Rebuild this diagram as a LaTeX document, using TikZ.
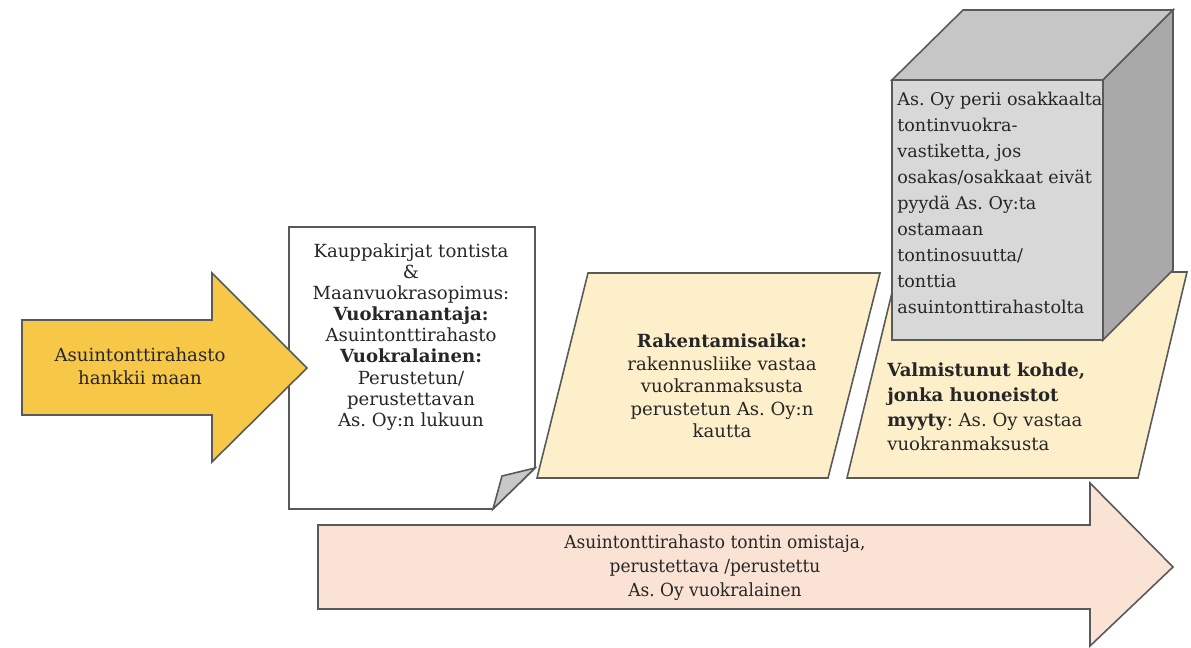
\documentclass[tikz,border=0pt]{standalone}
\usepackage{fontspec}
\setmainfont{DejaVu Serif}
\newfontfamily\narrowserif{DejaVu Serif}[FakeStretch=0.94]
\usetikzlibrary{positioning}
\pgfdeclarelayer{background}
\pgfsetlayers{background,main}
\definecolor{goldfill}{RGB}{247,199,72}
\definecolor{sandfill}{RGB}{253,239,202}
\definecolor{peachfill}{RGB}{250,227,213}
\definecolor{edgegray}{RGB}{89,89,89}
\definecolor{frontgray}{RGB}{216,216,216}
\definecolor{topgray}{RGB}{198,198,198}
\definecolor{sidegray}{RGB}{168,168,168}
\definecolor{foldgray}{RGB}{200,200,200}
\definecolor{inkgray}{RGB}{38,38,38}
\frenchspacing

\begin{document}
\begin{tikzpicture}[x=0.02cm, y=-0.02cm,
							shapeline/.style={draw=edgegray, line width=0.9pt},
							textnode/.style={text=inkgray, inner sep=0pt, font=\fontsize{10.3}{12}\selectfont},
							]
							\useasboundingbox (0,0) rectangle (1191,648);
							%Nodes
							\node[textnode, align=center, font=\fontsize{10.3}{13}\selectfont]      (hankinta) 	at	(140,366) 	{Asuintonttirahasto\\hankkii maan};
							\node[textnode, align=center]      (sopimus) 	at 	(411,337)           {Kauppakirjat tontista\\\&\\Maanvuokrasopimus:\\\textbf{Vuokranantaja:}\\Asuintonttirahasto\\\textbf{Vuokralainen:}\\Perustetun/\\perustettavan\\As. Oy:n lukuun};
							\node[textnode, align=center, font=\fontsize{10.3}{12.8}\selectfont]      (rakentaminen) 	at 	(722,386)           {\textbf{Rakentamisaika:}\\rakennusliike vastaa\\vuokranmaksusta\\perustetun As. Oy:n\\kautta};
							\node[textnode, align=left, anchor=west, font=\fontsize{10.3}{14}\selectfont]      (valmis) 	at 	(887,407)           {\textbf{Valmistunut kohde,}\\\textbf{jonka huoneistot}\\\textbf{myyty}: As. Oy vastaa\\vuokranmaksusta};
							\node[textnode, align=left, anchor=west, font=\fontsize{10}{14.8}\selectfont]      (vastike) 	at 	(897,203)           {As. Oy perii osakkaalta\\tontinvuokra-\\vastiketta, jos\\osakas/osakkaat eivät\\pyydä As. Oy:ta\\ostamaan\\tontinosuutta/\\tonttia\\asuintonttirahastolta};
							\node[textnode, align=center, font=\fontsize{10.3}{13.6}\narrowserif]      (omistus) 	at 	(715,568)           {Asuintonttirahasto tontin omistaja,\\perustettava /perustettu\\As. Oy vuokralainen};

							\begin{pgfonlayer}{background}
							% lower arrow
							\filldraw[shapeline, fill=peachfill] (318,525) -- (1090,525) -- (1090,483) -- (1173,567) -- (1090,646) -- (1090,609) -- (318,609) -- cycle;

							% contract sheet with folded corner
							\filldraw[shapeline, fill=white] (289,227) -- (535,227) -- (535,468) -- (493,509) -- (289,509) -- cycle;
							\filldraw[shapeline, fill=foldgray] (535,468) -- (502,476) -- (493,509) -- cycle;

							% first arrow
							\filldraw[shapeline, fill=goldfill] (22,320) -- (212,320) -- (212,273) -- (307,368) -- (212,462) -- (212,415) -- (22,415) -- cycle;

							% phases
							\filldraw[shapeline, fill=sandfill] (537,478) -- (828,478) -- (880,273) -- (588,273) -- cycle;
							\filldraw[shapeline, fill=sandfill] (847,478) -- (1138,478) -- (1187,272) -- (897,272) -- cycle;

							% block
							\filldraw[shapeline, fill=frontgray] (892,80) -- (1103,80) -- (1103,340) -- (892,340) -- cycle;
							\filldraw[shapeline, fill=topgray] (892,80) -- (963,10) -- (1173,10) -- (1103,80) -- cycle;
							\filldraw[shapeline, fill=sidegray] (1103,80) -- (1173,10) -- (1173,270) -- (1103,340) -- cycle;
							\end{pgfonlayer}
						\end{tikzpicture}
\end{document}
